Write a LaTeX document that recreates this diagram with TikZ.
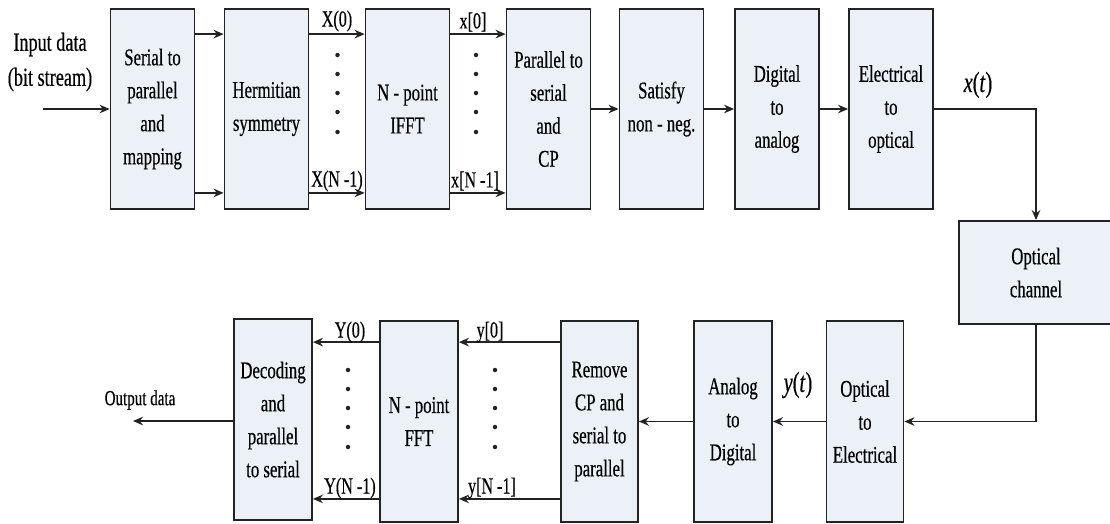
\documentclass[tikz,border=0pt]{standalone}
\usepackage{fontspec}
\setmainfont{Liberation Serif}[FakeStretch=0.7, FakeBold=0.4]
\usetikzlibrary{arrows.meta}
\definecolor{boxfill}{RGB}{236,241,247}
\definecolor{linecol}{RGB}{35,35,35}
\tikzset{
  blk/.style={draw=linecol, fill=boxfill, line width=1.8pt, minimum height=200pt,
    minimum width=#1, inner sep=0pt, align=center, font=\fontsize{24}{33}\selectfont},
  blk/.default=84pt,
  arr/.style={draw=linecol, line width=1.8pt, -{Stealth[length=10pt,width=8.5pt]}},
  lbl/.style={inner sep=0pt, font=\fontsize{23}{26}\selectfont},
  dot/.style={fill=linecol, circle, inner sep=0pt, minimum size=4.5pt}
}
\begin{document}
\begin{tikzpicture}[x=1pt,y=-1pt]
    \clip (0,0) rectangle (1110,523);
    % transmitter
    \node[blk] (sp) at (152.5,109) {Serial to\\parallel\\and\\mapping};
    \node[blk] (hs) at (266.5,109) {Hermitian\\symmetry};
    \node[blk] (ifft) at (407.5,109) {N - point\\IFFT};
    \node[blk] (ps) at (548.5,109) {Parallel to\\serial\\and\\CP};
    \node[blk] (nn) at (661.5,109) {Satisfy\\non - neg.};
    \node[blk] (da) at (777,109) {Digital\\to\\analog};
    \node[blk] (eo) at (891,109) {Electrical\\to\\optical};
    % channel
    \node[blk=154pt, minimum height=103pt] (ch) at (1036,272.5) {Optical\\channel};
    % receiver
    \node[blk=77pt, minimum height=201pt] (oe) at (865,421.5) {Optical\\to\\Electrical};
    \node[blk=78pt, minimum height=201pt] (ad) at (733,421.5) {Analog\\to\\Digital};
    \node[blk=77pt, minimum height=201pt] (rc) at (599.5,421.5) {Remove\\CP and\\serial to\\parallel};
    \node[blk=78pt, minimum height=201pt] (fft) at (419,421.5) {N - point\\FFT};
    \node[blk=78pt, minimum height=201pt] (dec) at (273,419.5) {Decoding\\and\\parallel\\to serial};
    % free ends
    \coordinate (in) at (43,109);
    \coordinate (out) at (133,421);
    \node[lbl, align=center, font=\fontsize{26}{35}\selectfont] (inl) at (50,62) {Input data\\(bit stream)};
    \node[lbl, font=\fontsize{21.5}{24}\selectfont] (outl) at (140,400) {Output data};
    % top connectors
    \draw[arr] (in) -- (sp.west);
    \foreach \a/\b in {sp/hs,hs/ifft,ifft/ps}{
      \draw[arr] ([yshift=-26pt]\a.north east) -- ([yshift=-26pt]\b.north west);
      \draw[arr] ([yshift=17pt]\a.south east) -- ([yshift=17pt]\b.south west);
    }
    \draw[arr] (ps) -- (nn);
    \draw[arr] (nn) -- (da);
    \draw[arr] (da) -- (eo);
    \draw[arr] (eo.east) -| (ch.north);
    \draw[arr] (ch.south) |- (oe.east);
    % bottom connectors
    \draw[arr] (oe) -- (ad);
    \draw[arr] (ad) -- (rc);
    \foreach \a/\b in {rc/fft,fft/dec}{
      \draw[arr] ([yshift=-22pt]\a.north west) -- ([yshift=-22pt]\a.north west -| \b.east);
      \draw[arr] ([yshift=24pt]\a.south west) -- ([yshift=24pt]\a.south west -| \b.east);
    }
    \draw[arr] (dec.west |- out) -- (out);
    % parallel dots
    \foreach \y in {55,74,93,112,132}{
      \node[dot] at (337.5,\y) {};
      \node[dot] at (476,\y) {};
    }
    \foreach \y in {370,389,408,427,447}{
      \node[dot] at (348,\y) {};
      \node[dot] at (495,\y) {};
    }
    % labels
    \node[lbl] (x0) at (337,21) {X(0)};
    \node[lbl] (xn) at (337,181) {X(N -1)};
    \node[lbl] (t0) at (473,22) {x[0]};
    \node[lbl] (tn) at (475,181) {x[N -1]};
    \node[lbl] (y0) at (350,332) {Y(0)};
    \node[lbl] (yn) at (350,488) {Y(N -1)};
    \node[lbl] (r0) at (490,332) {y[0]};
    \node[lbl] (rn) at (492,488) {y[N -1]};
    \node[lbl, font=\fontsize{29}{30}\selectfont] (xt) at (978,85) {\textit{x}(\textit{t})};
    \node[lbl, font=\fontsize{29}{30}\selectfont] (yt) at (798,385) {\textit{y}(\textit{t})};
\end{tikzpicture}
\end{document}
